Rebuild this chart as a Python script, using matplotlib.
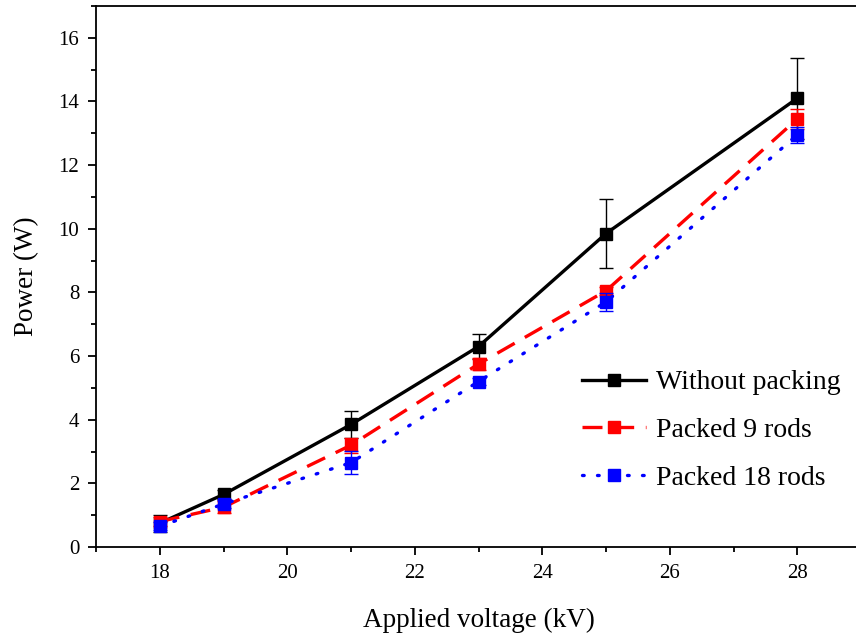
import matplotlib.pyplot as plt
from matplotlib.ticker import MultipleLocator

plt.rcParams['font.family'] = ['Liberation Serif', 'DejaVu Serif']

voltage = [18, 19, 21, 23, 25, 28]

power_none = [0.75, 1.65, 3.85, 6.3, 9.85, 14.1]
err_none = [0.27, 0.15, 0.42, 0.4, 1.08, 1.27]

power_9 = [0.8, 1.25, 3.2, 5.75, 8.05, 13.45]
err_9 = [0.15, 0.18, 0.24, 0.2, 0.12, 0.3]

power_18 = [0.65, 1.35, 2.65, 5.2, 7.7, 12.95]
err_18 = [0.12, 0.12, 0.37, 0.1, 0.27, 0.25]

labels = ["Without packing", "Packed 9 rods", "Packed 18 rods"]

fig = plt.figure(figsize=(8.56, 6.34), dpi=100)
ax = fig.add_axes([96 / 856, 87 / 634, 765 / 856, 541 / 634])

styles = [
    ("black", "-", power_none, err_none),
    ("red", (0, (6, 3.5)), power_9, err_9),
    ("blue", (0, (0.5, 4.0)), power_18, err_18),
]

for (color, ls, vals, errs), label in zip(styles, labels):
    ax.errorbar(voltage, vals, yerr=errs, fmt="none", ecolor=color,
                elinewidth=1.0, capsize=5, capthick=1.0)
    ax.plot(voltage, vals, color=color, linestyle=ls, linewidth=2.4,
            marker="s", markersize=9, label=label,
            dash_capstyle="round" if color == "blue" else "butt")

ax.set_xlim(17, 29)
ax.set_ylim(0, 17)
ax.xaxis.set_major_locator(MultipleLocator(2))
ax.xaxis.set_minor_locator(MultipleLocator(1))
ax.yaxis.set_major_locator(MultipleLocator(2))
ax.yaxis.set_minor_locator(MultipleLocator(1))
ax.tick_params(which="major", direction="out", length=6, width=1.3,
               labelsize=15, pad=6)
ax.tick_params(which="minor", direction="out", length=3.5, width=1.3)
for sp in ax.spines.values():
    sp.set_linewidth(1.3)

ax.set_xlabel("Applied voltage (kV)", fontsize=19.5, labelpad=18)
ax.set_ylabel("Power (W)", fontsize=19.5, labelpad=14)

ax.legend(loc="lower right", bbox_to_anchor=(1.006, 0.058), frameon=False,
          fontsize=20, handlelength=2.3, handletextpad=0.35, labelspacing=0.8)

fig.savefig("out.png", dpi=100)
